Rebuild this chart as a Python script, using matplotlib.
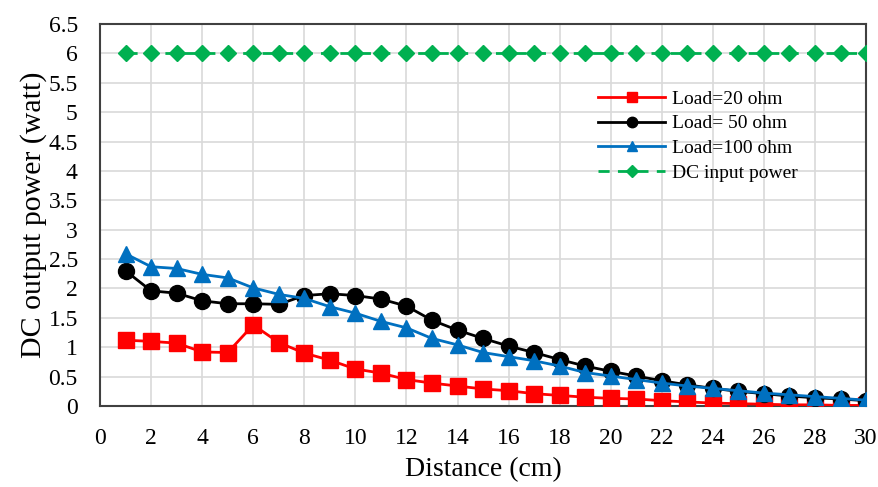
import matplotlib
matplotlib.use("Agg")
from matplotlib import pyplot as plt
from matplotlib.ticker import FuncFormatter

distance = list(range(1, 31))
load_20 = [1.12, 1.10, 1.07, 0.92, 0.91, 1.38, 1.08, 0.90, 0.78, 0.63,
           0.56, 0.45, 0.39, 0.34, 0.29, 0.26, 0.21, 0.18, 0.15, 0.13,
           0.12, 0.09, 0.07, 0.05, 0.04, 0.03, 0.02, 0.02, 0.01, 0.01]
load_50 = [2.30, 1.96, 1.92, 1.79, 1.74, 1.74, 1.73, 1.88, 1.91, 1.88,
           1.82, 1.70, 1.46, 1.29, 1.15, 1.02, 0.91, 0.79, 0.68, 0.59,
           0.51, 0.43, 0.36, 0.30, 0.25, 0.21, 0.17, 0.14, 0.12, 0.09]
load_100 = [2.59, 2.37, 2.34, 2.24, 2.18, 2.01, 1.90, 1.83, 1.69, 1.58,
            1.44, 1.33, 1.15, 1.04, 0.91, 0.84, 0.77, 0.68, 0.57, 0.51,
            0.45, 0.39, 0.34, 0.30, 0.26, 0.22, 0.19, 0.16, 0.13, 0.10]
dc_input = [6] * 30

plt.rcParams["font.family"] = ["Liberation Serif", "DejaVu Serif"]

fig = plt.figure(figsize=(8.79, 4.87), dpi=100)
ax = fig.add_axes([0.1138, 0.1663, 0.8715, 0.7844])

ax.plot(distance, load_20, color="#FF0000", lw=2, marker="s", ms=11,
        label="Load=20 ohm", zorder=3)
ax.plot(distance, load_50, color="black", lw=2, marker="o", ms=11.5,
        label="Load= 50 ohm", zorder=3)
ax.plot(distance, load_100, color="#0070C0", lw=2, marker="^", ms=12,
        label="Load=100 ohm", zorder=4)
ax.plot(distance, dc_input, color="#00B050", lw=2, ls=(0, (4, 3)), marker="D",
        ms=8, label="DC input power", zorder=3)

ax.set_xlim(0, 30)
ax.set_ylim(0, 6.5)
ax.set_xticks(range(0, 31, 2))
ax.set_yticks([i * 0.5 for i in range(14)])
ax.yaxis.set_major_formatter(FuncFormatter(lambda v, p: f"{v:g}"))
ax.tick_params(length=0, labelsize=17, pad=16)
ax.grid(True, color="#D9D9D9", lw=1.2)
ax.set_axisbelow(True)
for s in ax.spines.values():
    s.set_color("#404040")
    s.set_linewidth(1.5)

ax.set_xlabel("Distance (cm)", fontsize=20, labelpad=6)
ax.set_ylabel("DC output power (watt)", fontsize=21.5, labelpad=1)

leg = ax.legend(loc="upper left", bbox_to_anchor=(0.650, 0.827), frameon=False,
                fontsize=14, handlelength=3.45, labelspacing=0.36,
                handletextpad=0.36, borderpad=0, borderaxespad=0)
for h, size in zip(leg.legend_handles, [7, 7.5, 7.5, 6]):
    h.set_markersize(size)

fig.savefig("out.png", dpi=100)
